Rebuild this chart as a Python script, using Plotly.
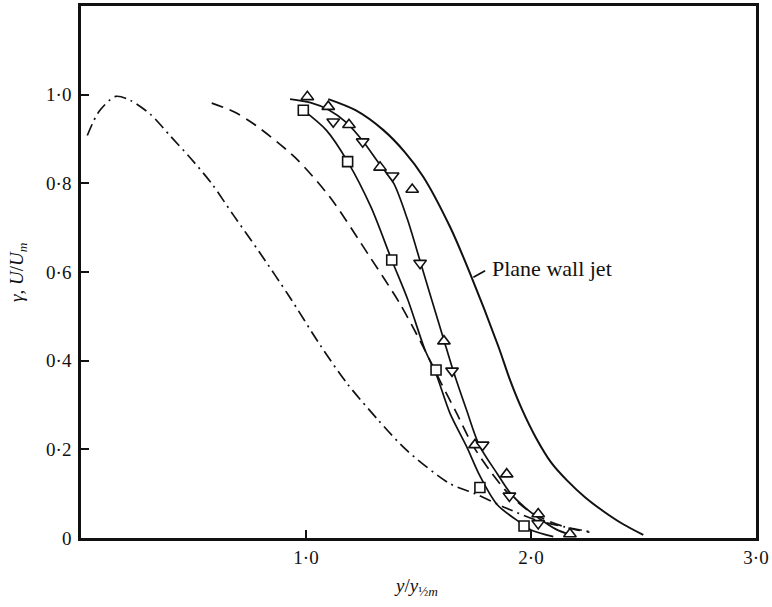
import plotly.graph_objects as go

# ---- data -------------------------------------------------------------
# dash-dot profile
dashdot_x = [0.028, 0.08, 0.154, 0.22, 0.31, 0.40, 0.49, 0.58, 0.675,
             0.794, 0.928, 1.063, 1.182, 1.321, 1.447, 1.638, 1.751, 1.892,
             2.026, 2.15, 2.264]
dashdot_y = [0.908, 0.962, 0.996, 0.987, 0.955, 0.905, 0.855, 0.80, 0.73,
             0.644, 0.543, 0.435, 0.349, 0.266, 0.198, 0.123, 0.10, 0.067,
             0.04, 0.025, 0.014]

# dashed profile
dashed_x = [0.581, 0.677, 0.765, 0.95, 1.106, 1.284, 1.417, 1.521, 1.60,
            1.67, 1.74, 1.82, 1.90, 1.98, 2.07, 2.17, 2.26]
dashed_y = [0.981, 0.962, 0.935, 0.859, 0.769, 0.634, 0.529, 0.431, 0.35,
            0.281, 0.21, 0.15, 0.10, 0.065, 0.04, 0.022, 0.013]

# solid curve through the squares
sq_curve_x = [0.988, 1.09, 1.185, 1.29, 1.381, 1.453, 1.529, 1.578, 1.64,
              1.714, 1.773, 1.85, 1.951, 2.0, 2.099]
sq_curve_y = [0.965, 0.92, 0.849, 0.745, 0.627, 0.537, 0.424, 0.37, 0.281,
              0.206, 0.14, 0.075, 0.035, 0.018, 0.003]

# solid curve through the triangles
tri_curve_x = [0.929, 1.02, 1.10, 1.18, 1.25, 1.32, 1.39, 1.45, 1.507, 1.56,
               1.612, 1.655, 1.714, 1.77, 1.85, 1.91, 1.975, 2.04, 2.11, 2.18]
tri_curve_y = [0.99, 0.982, 0.966, 0.937, 0.897, 0.848, 0.80, 0.72, 0.625,
               0.535, 0.448, 0.376, 0.288, 0.209, 0.145, 0.10, 0.068, 0.043,
               0.02, 0.006]

# plane wall jet
wall_x = [1.099, 1.22, 1.344, 1.44, 1.521, 1.64, 1.729, 1.855, 1.907, 1.96,
          2.02, 2.09, 2.16, 2.24, 2.32, 2.41, 2.499]
wall_y = [0.99, 0.965, 0.92, 0.87, 0.815, 0.702, 0.597, 0.432, 0.356, 0.29,
          0.228, 0.17, 0.13, 0.092, 0.061, 0.031, 0.007]

# measured points
up_x = [1.006, 1.099, 1.191, 1.329, 1.472, 1.613, 1.751, 1.892, 2.032, 2.173]
up_y = [0.995, 0.973, 0.932, 0.836, 0.786, 0.444, 0.21, 0.144, 0.054, 0.009]

down_x = [1.121, 1.252, 1.385, 1.507, 1.649, 1.785, 1.904, 2.032]
down_y = [0.939, 0.894, 0.817, 0.62, 0.377, 0.21, 0.095, 0.033]

sq_x = [0.988, 1.185, 1.381, 1.578, 1.773, 1.969, 2.256]
sq_y = [0.965, 0.849, 0.627, 0.379, 0.114, 0.027, -0.008]

# label leader
leader_x = [1.744, 1.796]
leader_y = [0.588, 0.603]
label_text = "Plane wall jet"

x_tickvals = [1.0, 2.0, 3.0]
x_ticktext = ["1·0", "2·0", "3·0"]
y_tickvals = [0, 0.2, 0.4, 0.6, 0.8, 1.0]
y_ticktext = ["0", "0·2", "0·4", "0·6", "0·8", "1·0"]

FONT = "Liberation Serif, Times New Roman, serif"
BLACK = "#111111"

fig = go.Figure()


def curve(x, y, dash="solid", width=1.7):
    fig.add_trace(go.Scatter(
        x=x, y=y, mode="lines",
        line=dict(color=BLACK, width=width, dash=dash,
                  shape="spline", smoothing=0.8),
        hoverinfo="skip", showlegend=False, cliponaxis=False))


curve(dashdot_x, dashdot_y, dash="12px,5px,2px,5px")
curve(dashed_x, dashed_y, dash="12px,7px")
curve(sq_curve_x, sq_curve_y)
curve(tri_curve_x, tri_curve_y)
curve(wall_x, wall_y, width=2.0)

fig.add_trace(go.Scatter(
    x=leader_x, y=leader_y, mode="lines",
    line=dict(color=BLACK, width=1.7), hoverinfo="skip", showlegend=False))


def points(x, y, symbol, size):
    fig.add_trace(go.Scatter(
        x=x, y=y, mode="markers",
        marker=dict(symbol=symbol, size=size, color="white",
                    line=dict(color=BLACK, width=1.6)),
        hoverinfo="skip", showlegend=False, cliponaxis=False))


points(up_x, up_y, "triangle-up", 11)
points(down_x, down_y, "triangle-down", 11)
points(sq_x, sq_y, "square", 10)

fig.add_annotation(x=1.818, y=0.609, xref="x", yref="y", text=label_text,
                   showarrow=False, xanchor="left", yanchor="middle",
                   font=dict(family=FONT, size=22, color=BLACK))

# axis titles
fig.add_annotation(xref="paper", yref="paper", x=0, y=0.5, xshift=-63,
                   text="<i>γ</i>, <i>U</i>/<i>U</i><sub><i>m</i></sub>",
                   textangle=-90, showarrow=False, xanchor="center",
                   yanchor="middle", font=dict(family=FONT, size=19, color=BLACK))
fig.add_annotation(xref="paper", yref="paper", x=0.5, y=0, yshift=-49, xshift=-3,
                   text="<i>y</i>/<i>y</i><sub>½<i>m</i></sub>",
                   showarrow=False, xanchor="center", yanchor="middle",
                   font=dict(family=FONT, size=19, color=BLACK))

axis_common = dict(
    showgrid=False, zeroline=False, showline=True, linecolor=BLACK,
    linewidth=2.5, mirror=True, ticks="inside", ticklen=8, tickwidth=1.6,
    tickcolor=BLACK, tickfont=dict(family=FONT, size=19, color=BLACK),
    fixedrange=True)

fig.update_xaxes(range=[0, 3.0], tickvals=x_tickvals, ticktext=x_ticktext,
                 ticklabelstandoff=0, **axis_common)
fig.update_yaxes(range=[0, 1.2], tickvals=y_tickvals, ticktext=y_ticktext,
                 ticklabelstandoff=3, **axis_common)

fig.update_layout(
    width=772, height=607,
    margin=dict(l=81, r=16, t=6, b=69, autoexpand=False),
    paper_bgcolor="white", plot_bgcolor="white",
    font=dict(family=FONT, color=BLACK),
    showlegend=False,
)

fig.write_html("out.html")
